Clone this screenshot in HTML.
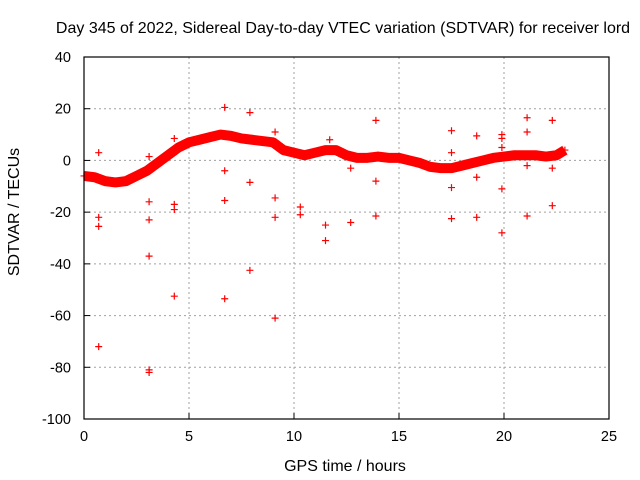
<!DOCTYPE html>
<html><head><meta charset="utf-8"><style>
body{margin:0;background:#fff}
svg{display:block;font-family:"Liberation Sans",Arial,sans-serif}
</style></head><body>
<svg id="chart" width="640" height="480" viewBox="0 0 640 480" xmlns="http://www.w3.org/2000/svg">
<rect width="640" height="480" fill="#fff"/>
<text x="343" y="33" text-anchor="middle" font-size="16">Day 345 of 2022, Sidereal Day-to-day VTEC variation (SDTVAR) for receiver lord</text>
<text x="345" y="471" text-anchor="middle" font-size="16">GPS time / hours</text>
<text transform="translate(19,212) rotate(-90)" text-anchor="middle" font-size="16">SDTVAR / TECUs</text>
<g id="grid"></g><g id="ticks"></g><g id="marks"></g>
<rect x="84" y="57" width="525" height="362" fill="none" stroke="#000" stroke-width="1.2"/>
</svg>
<script>
const xTicks=[0,5,10,15,20,25];
const yTicks=[40,20,0,-20,-40,-60,-80,-100];
const curveHours=[0,0.5,1,1.5,2,2.5,3,3.5,4,4.5,5,5.5,6,6.5,7,7.5,8,8.5,9,9.5,10,10.5,11,11.5,12,12.5,13,13.5,14,14.5,15,15.5,16,16.5,17,17.5,18,18.5,19,19.5,20,20.5,21,21.5,22,22.5,22.9];
const curveValues=[-6,-6.5,-8,-8.5,-8,-6,-4,-1,2,5,7,8,9,10,9.5,8.5,8,7.5,7,4,3,2,3,4,4,2,1,1,1.5,1,1,0,-1,-2.5,-3,-3,-2,-1,0,1,1.5,2,2,2,1.5,2,4];
const outlierHours=[0.7,0.7,0.7,0.7,3.1,3.1,3.1,3.1,3.1,3.1,4.3,4.3,4.3,4.3,6.7,6.7,6.7,6.7,7.9,7.9,7.9,9.1,9.1,9.1,9.1,10.3,10.3,11.5,11.5,11.7,12.7,12.7,13.9,13.9,13.9,17.5,17.5,17.5,17.5,18.7,18.7,18.7,19.9,19.9,19.9,19.9,19.9,21.1,21.1,21.1,21.1,22.3,22.3,22.3];
const outlierValues=[3,-22,-25.5,-72,1.5,-16,-23,-37,-81,-82,8.5,-17,-19,-52.5,20.5,-4,-15.5,-53.5,18.5,-8.5,-42.5,11,-14.5,-22,-61,-18,-21,-25,-31,8,-3,-24,15.5,-8,-21.5,11.5,3,-10.5,-22.5,9.5,-6.5,-22,10,8.5,5,-11,-28,16.5,11,-2,-21.5,15.5,-3,-17.5];
const NS="http://www.w3.org/2000/svg";
const X0=84,X1=609,Y0=419,Y1=57;
function sx(v){return X0+(v-0)/(25-0)*(X1-X0);}
function sy(v){return Y0-(v+100)/(140)*(Y0-Y1);}
function mk(tag,attrs,parent){const e=document.createElementNS(NS,tag);for(const k in attrs)e.setAttribute(k,attrs[k]);parent.appendChild(e);return e;}
const grid=document.getElementById('grid'),ticks=document.getElementById('ticks'),marks=document.getElementById('marks');
xTicks.forEach(t=>{const x=sx(t);
 if(t>0&&t<25){const g=mk('line',{x1:x,x2:x,y1:Y1,y2:Y0,stroke:'#a0a0a0','stroke-dasharray':'2,3'},grid);
 
 }
 const tl=mk('line',{x1:x,x2:x,y1:Y0,y2:Y0-6,stroke:'#000'},ticks);
 
 
 const tx=mk('text',{x:x,y:Y0+22,'text-anchor':'middle','font-size':'14.5'},ticks);tx.textContent=t;
 
 
});
yTicks.forEach(t=>{const y=sy(t);
 if(t<40&&t>-100){const g=mk('line',{x1:X0,x2:X1,y1:y,y2:y,stroke:'#a0a0a0','stroke-dasharray':'2,3'},grid);
 
 }
 const tl=mk('line',{x1:X0,x2:X0+6,y1:y,y2:y,stroke:'#000'},ticks);
 
 
 const tx=mk('text',{x:X0-13,y:y+5,'text-anchor':'end','font-size':'14.5'},ticks);tx.textContent=t;
 
 
});
const pts=curveHours.map((h,i)=>sx(h)+','+sy(curveValues[i])).join(' ');
const band=mk('polyline',{points:pts,fill:'none',stroke:'#ff0000','stroke-width':10,'stroke-linejoin':'round'},marks);


function plus(h,v){const x=sx(h),y=sy(v);
 const p=mk('path',{d:`M${x-3.5},${y}H${x+3.5}M${x},${y-3.5}V${y+3.5}`,stroke:'#ff0000','stroke-width':1.2},marks);
 return p;}
curveHours.forEach((h,i)=>{const p=plus(h,curveValues[i]);
 
 });
outlierHours.forEach((h,i)=>{const p=plus(h,outlierValues[i]);
 
 });
</script>
</body></html>
